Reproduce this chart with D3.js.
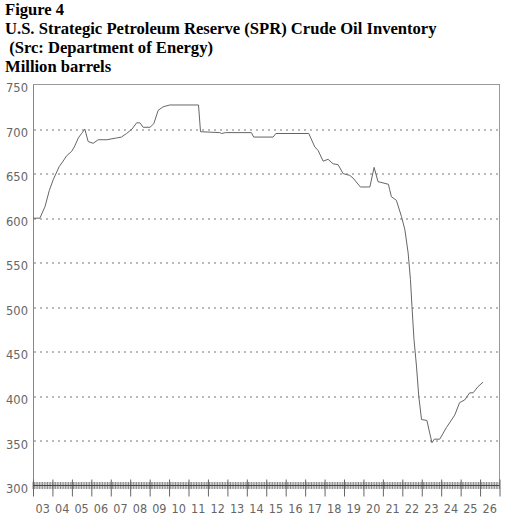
<!DOCTYPE html>
<html>
<head>
<meta charset="utf-8">
<script src="https://cdn.jsdelivr.net/npm/d3@7"></script>
<style>
  body { margin: 0; background: #fff; }
  svg { display: block; }
</style>
</head>
<body>
<div id="chart"></div>
<script>
// SPR inventory (million barrels)
const dates = [
  "2003-01-01","2003-05-10","2003-08-15","2003-11-03","2004-01-15","2004-05-08","2004-07-20","2004-09-24",
  "2004-12-28","2005-02-24","2005-05-01","2005-07-01","2005-09-01","2005-11-02","2006-02-05","2006-05-10",
  "2006-10-20","2007-04-20","2007-07-20","2007-10-26","2008-02-05","2008-05-01","2008-07-01","2008-09-01",
  "2009-01-08","2009-03-20","2009-06-10","2009-09-12","2010-01-15","2011-07-08","2011-08-15","2012-08-10",
  "2012-09-12","2012-11-25","2014-03-28","2014-05-10","2015-05-10","2015-07-01","2017-03-10","2017-07-01",
  "2017-09-01","2017-12-05","2018-03-08","2018-06-10","2018-09-12","2018-12-15","2019-04-20","2019-06-20",
  "2019-11-05","2020-05-01","2020-07-20","2020-10-01","2021-04-15","2021-05-08","2021-06-10","2021-09-12",
  "2021-12-15","2022-02-18","2022-04-20","2022-06-03","2022-07-01","2022-08-08","2022-09-24","2022-11-06",
  "2022-12-28","2023-04-08","2023-05-30","2023-07-12","2023-08-25","2023-12-05","2024-04-08","2024-09-12",
  "2024-12-12","2025-03-18","2025-06-20","2025-08-22","2025-11-25","2026-02-25"
];
const values = [
  600, 600, 613, 631, 643, 658, 664, 670,
  675, 681, 690, 695, 700, 686, 684, 688,
  688, 690, 691, 695, 700, 707, 707, 702,
  702, 706, 721, 725, 727, 727, 697, 696,
  695, 696, 696, 691, 691, 695, 695, 680,
  676, 664, 666, 661, 660, 650, 648, 645,
  635, 635, 657, 641, 638, 632, 624, 620,
  602, 587, 561, 531, 501, 464, 434, 400,
  374, 373, 359, 348, 352, 352, 365, 379,
  393, 396, 404, 404, 411, 416
];
const yTicks = [300, 350, 400, 450, 500, 550, 600, 650, 700, 750];
const yearLabels = ["03","04","05","06","07","08","09","10","11","12","13","14",
                    "15","16","17","18","19","20","21","22","23","24","25","26"];
const titleLines = ["Figure 4",
                    "U.S. Strategic Petroleum Reserve (SPR) Crude Oil Inventory",
                    " (Src: Department of Energy)",
                    "Million barrels"];

const width = 510, height = 517;
const margin = ({top: 84.5, right: 10.5, bottom: 31.5, left: 33});
const visWidth = width - margin.left - margin.right;
const visHeight = height - margin.top - margin.bottom;

const parse = d3.timeParse("%Y-%m-%d");
const data = dates.map((d, i) => ({date: parse(d), value: values[i]}));

const x = d3.scaleTime()
    .domain([new Date(2003, 0, 1), new Date(2027, 0, 1)])
    .range([0, visWidth]);

const y = d3.scaleLinear()
    .domain([300, 750])
    .range([visHeight, 0]);

const svg = d3.select("#chart").append("svg")
    .attr("width", width)
    .attr("height", height);

// title block
svg.append("g").selectAll("text")
  .data(titleLines)
  .enter().append("text")
    .attr("x", 5)
    .attr("y", (d, i) => 15 + i * 19)
    .style("white-space", "pre")
    .attr("font-family", "'Liberation Serif', 'Times New Roman', serif")
    .attr("font-weight", "bold")
    .attr("font-size", "16.6px")
    .attr("fill", "#000")
    .text(d => d);

const g = svg.append("g")
    .attr("transform", `translate(${margin.left}, ${margin.top})`);

// dotted grid
g.append("g")
  .selectAll("line")
  .data(yTicks.filter(d => d > 300 && d < 750))
  .enter().append("line")
    .attr("x1", 1)
    .attr("x2", visWidth)
    .attr("y1", d => Math.round(y(d)) + 0.5)
    .attr("y2", d => Math.round(y(d)) + 0.5)
    .attr("stroke", "#777")
    .attr("stroke-dasharray", "2,4");

// frame
g.append("rect")
    .attr("x", 0.5)
    .attr("y", 0)
    .attr("width", visWidth - 0.5)
    .attr("height", visHeight)
    .attr("fill", "none")
    .attr("stroke", "#999");

// y axis labels
const yAxis = g.append("g")
    .call(d3.axisLeft(y).tickValues(yTicks).tickSize(0).tickPadding(5));
yAxis.select(".domain").attr("stroke", "#888");
yAxis.selectAll("text")
    .attr("font-family", "'DejaVu Sans', Verdana, sans-serif")
    .attr("font-size", "11.5px")
    .attr("fill", "#666")
    .attr("dy", "0.62em");

// dense monthly ticks along the bottom
g.append("g")
    .attr("transform", `translate(0, ${visHeight})`)
  .selectAll("line")
  .data(x.ticks(d3.timeMonth.every(1)))
  .enter().append("line")
    .attr("x1", d => x(d))
    .attr("x2", d => x(d))
    .attr("y1", -3.5)
    .attr("y2", 3.5)
    .attr("stroke", "#888")
    .attr("stroke-width", 1);

// year ticks + labels
const xAxis = g.append("g")
    .attr("transform", `translate(0, ${visHeight})`)
    .call(d3.axisBottom(x).ticks(d3.timeYear.every(1)).tickSize(11).tickFormat(""));
xAxis.select(".domain").remove();
xAxis.selectAll(".tick line")
    .attr("y1", -6)
    .attr("stroke", "#666");

g.append("line")
    .attr("x1", 0)
    .attr("x2", visWidth)
    .attr("y1", visHeight)
    .attr("y2", visHeight)
    .attr("stroke", "#444")
    .attr("stroke-width", 1.2);

g.append("g")
  .selectAll("text")
  .data(yearLabels)
  .enter().append("text")
    .attr("x", d => x(new Date(2000 + (+d), 6, 2)))
    .attr("y", visHeight + 27)
    .attr("text-anchor", "middle")
    .attr("font-family", "'Liberation Sans Narrow', 'Arial Narrow', 'DejaVu Sans Condensed', sans-serif")
    .attr("font-size", "12.5px")
    .attr("fill", "#666")
    .text(d => d);

// inventory line
g.append("path")
    .datum(data)
    .attr("fill", "none")
    .attr("stroke", "#666")
    .attr("stroke-width", 1)
    .attr("d", d3.line()
        .x(d => x(d.date))
        .y(d => y(d.value)));
</script>
</body>
</html>
